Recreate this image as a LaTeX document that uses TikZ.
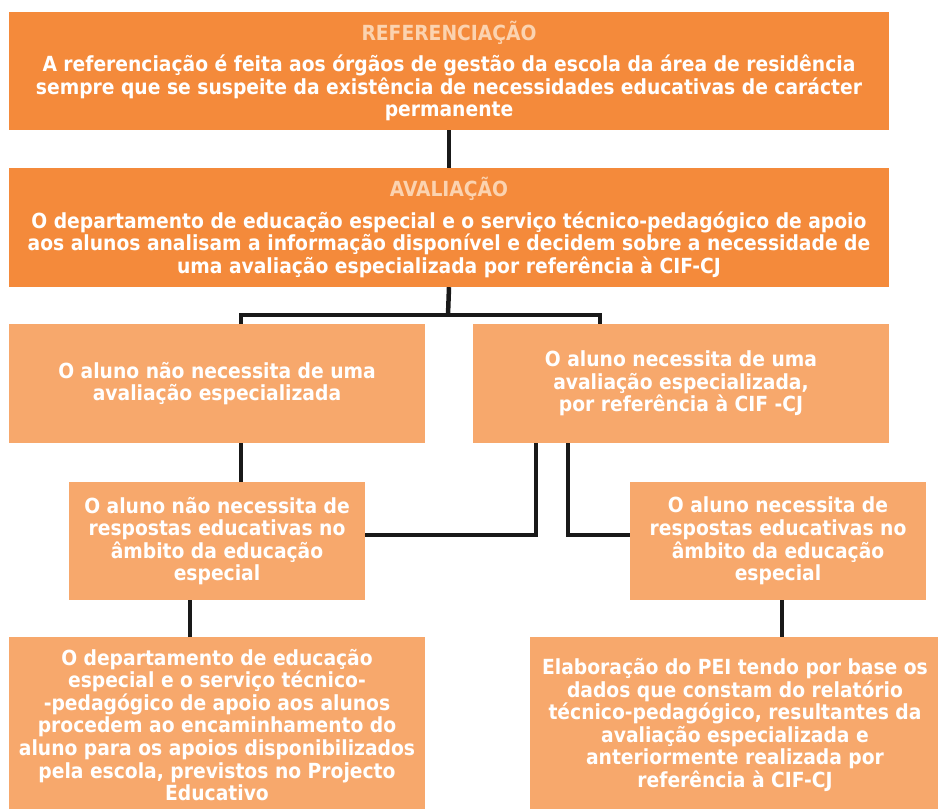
\documentclass[tikz,border=0pt]{standalone}
\usepackage{fontspec}
\setmainfont{DejaVu Sans Condensed}[BoldFont={DejaVu Sans Condensed Bold}]
\usetikzlibrary{calc}
\definecolor{darkor}{HTML}{F48A3B}
\definecolor{lightor}{HTML}{F7A86C}
\definecolor{titlecol}{HTML}{FBD3B0}
\tikzset{
  box/.style={inner sep=0pt, align=center, text=white, font=\bfseries\fontsize{20.8}{22.6}\selectfont},
  darkbox/.style={box, fill=darkor},
  lightbox/.style={box, fill=lightor},
  conn/.style={draw=black!90, line width=4.5pt}
}
\newcommand{\ttl}[1]{{\color{titlecol}#1}\\[9pt]}
\begin{document}
\begin{tikzpicture}[x=1pt,y=-1pt]
\useasboundingbox (0,0) rectangle (938,809);
\node[darkbox, minimum width=880pt, minimum height=118pt] (ref) at (449,71)
  {\ttl{REFERENCIAÇÃO}A referenciação é feita aos órgãos de gestão da escola da área de residência\\sempre que se suspeite da existência de necessidades educativas de carácter\\permanente};
\node[darkbox, minimum width=880pt, minimum height=119pt] (aval) at (449,227.5)
  {\ttl{AVALIAÇÃO}O departamento de educação especial e o serviço técnico-pedagógico de apoio\\aos alunos analisam a informação disponível e decidem sobre a necessidade de\\uma avaliação especializada por referência à CIF-CJ};
\node[lightbox, minimum width=416pt, minimum height=119pt] (nao) at (217,383.5)
  {O aluno não necessita de uma\\avaliação especializada};
\node[lightbox, minimum width=416pt, minimum height=119pt] (sim) at (681,383.5)
  {O aluno necessita de uma\\avaliação especializada,\\ por referência à CIF -CJ};
\node[lightbox, minimum width=296pt, minimum height=118pt] (naoresp) at (217,541)
  {O aluno não necessita de\\respostas educativas no\\âmbito da educação\\especial};
\node[lightbox, minimum width=296pt, minimum height=118pt] (simresp) at (778,541)
  {O aluno necessita de\\respostas educativas no\\âmbito da educação\\especial};
\node[lightbox, minimum width=416pt, minimum height=176pt] (enc) at (217,725)
  {O departamento de educação\\especial e o serviço técnico-\\-pedagógico de apoio aos alunos\\procedem ao encaminhamento do\\aluno para os apoios disponibilizados\\pela escola, previstos no Projecto\\Educativo};
\node[lightbox, minimum width=410pt, minimum height=176pt] (pei) at (735,725)
  {Elaboração do PEI tendo por base os\\dados que constam do relatório\\técnico-pedagógico, resultantes da\\avaliação especializada e\\anteriormente realizada por\\referência à CIF-CJ};
% connectors
\coordinate (bar) at (448,315);
\draw[conn] (ref.south) -- (aval.north);
\draw[conn] (aval.south) -- (bar);
\draw[conn] (bar) -| ($(nao.north)+(24,0)$);
\draw[conn] (bar) -| ($(sim.north)+(-81,0)$);
\draw[conn] ($(nao.south)+(24,0)$) -- ($(naoresp.north)+(24,0)$);
\coordinate (s1) at ($(sim.south)+(-145,0)$);
\coordinate (s2) at ($(sim.south)+(-113,0)$);
\draw[conn] (s1) |- ($(naoresp.east)+(0,-6)$);
\draw[conn] (s2) |- ($(simresp.west)+(0,-6)$);
\draw[conn] ($(naoresp.south)+(-27,0)$) -- ($(enc.north)+(-27,0)$);
\draw[conn] ($(simresp.south)+(4,0)$) -- ($(pei.north)+(47,0)$);
\end{tikzpicture}
\end{document}
